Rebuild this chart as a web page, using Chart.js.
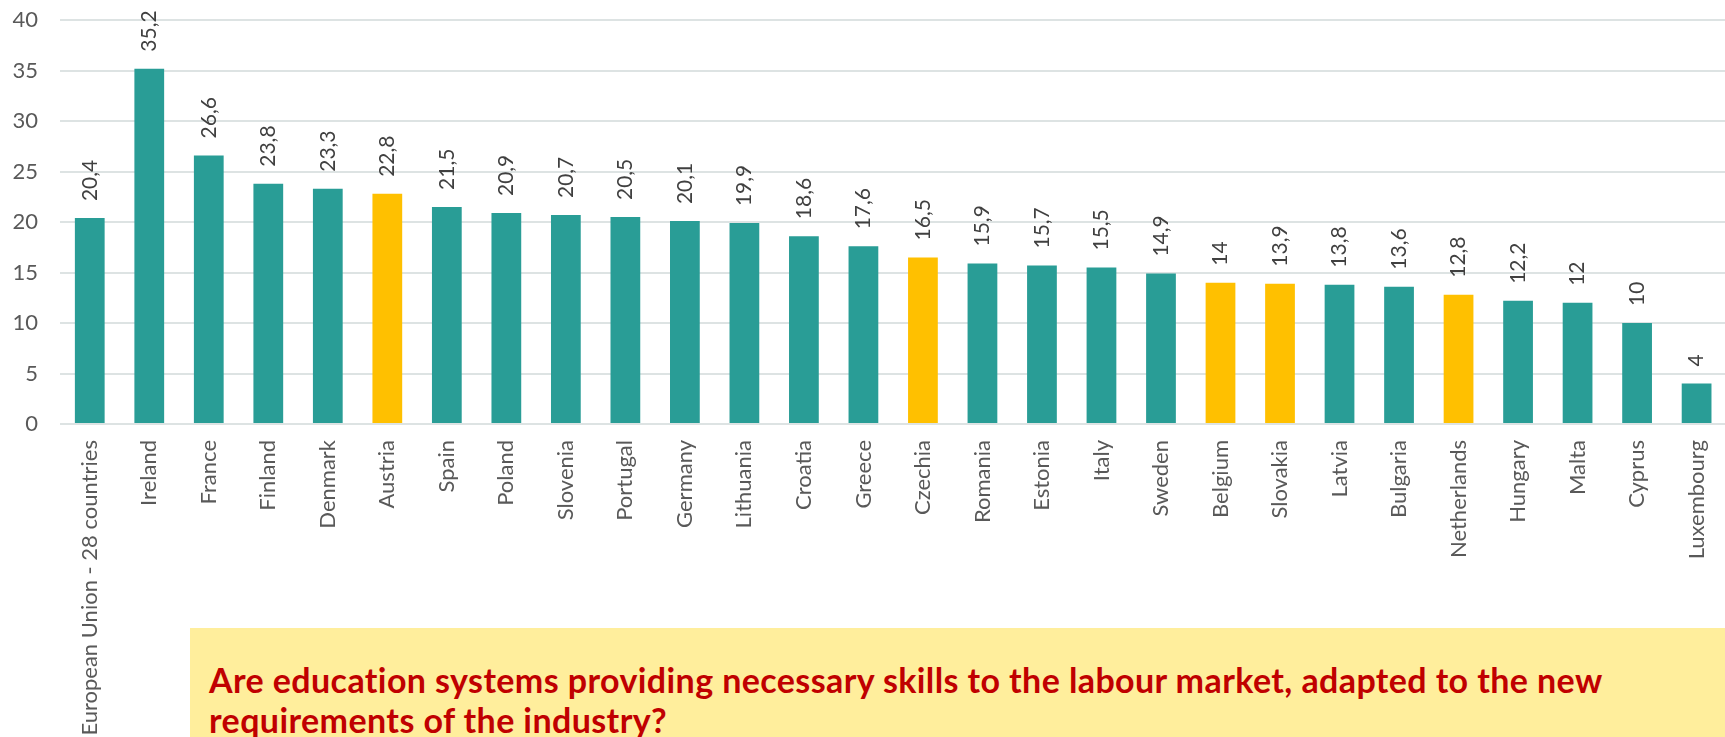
<!DOCTYPE html>
<html>
<head>
<meta charset="utf-8">
<script src="https://cdn.jsdelivr.net/npm/chart.js@4"></script>
<style>
  html, body { margin: 0; padding: 0; background: #fff; overflow: hidden; }
  #wrap { position: relative; width: 1725px; height: 737px; overflow: hidden; }
  #chartBox { position: absolute; left: 0; top: -15px; width: 1731px; height: 752px; }
  #question {
    position: absolute; left: 190px; top: 628px; width: 1535px; height: 109px;
    background: #FFEE9C; box-sizing: border-box; padding: 32px 0 0 19px;
    font-family: Lato, sans-serif; font-weight: bold; font-size: 34px; line-height: 40px;
    letter-spacing: 0.4px; color: #C00000;
  }
</style>
</head>
<body>
<div id="wrap">
  <div id="chartBox"><canvas id="skills"></canvas></div>
  <div id="question">Are education systems providing necessary skills to the labour market, adapted to the new<br>requirements of the industry?</div>
</div>
<script>
// Colors
var mainColor = "rgb(41, 157, 150)";
var highlightColor = "rgb(255, 192, 0)";
var tickColor = "#595959";
var gridColor = "#DDE3E3";

// Data
var countries = ['European Union - 28 countries', 'Ireland', 'France', 'Finland', 'Denmark', 'Austria', 'Spain', 'Poland', 'Slovenia', 'Portugal', 'Germany', 'Lithuania', 'Croatia', 'Greece', 'Czechia', 'Romania', 'Estonia', 'Italy', 'Sweden', 'Belgium', 'Slovakia', 'Latvia', 'Bulgaria', 'Netherlands', 'Hungary', 'Malta', 'Cyprus', 'Luxembourg'];
var values = [20.4, 35.2, 26.6, 23.8, 23.3, 22.8, 21.5, 20.9, 20.7, 20.5, 20.1, 19.9, 18.6, 17.6, 16.5, 15.9, 15.7, 15.5, 14.9, 14, 13.9, 13.8, 13.6, 12.8, 12.2, 12, 10, 4];
var highlighted = ['Austria', 'Czechia', 'Belgium', 'Slovakia', 'Netherlands'];
var yTicks = [0, 5, 10, 15, 20, 25, 30, 35, 40];

var barColors = countries.map(function (c) {
  return highlighted.indexOf(c) >= 0 ? highlightColor : mainColor;
});

// Rotated value labels above each bar
var valueLabels = {
  id: 'valueLabels',
  afterDatasetsDraw: function (chart) {
    var ctx = chart.ctx;
    var meta = chart.getDatasetMeta(0);
    ctx.save();
    ctx.font = '21px Lato';
    ctx.fillStyle = '#404040';
    ctx.textAlign = 'left';
    ctx.textBaseline = 'middle';
    meta.data.forEach(function (bar, i) {
      ctx.save();
      ctx.translate(bar.x, bar.y - 17);
      ctx.rotate(-Math.PI / 2);
      ctx.fillText(String(values[i]).replace('.', ','), 0, 0);
      ctx.restore();
    });
    ctx.restore();
  }
};

var skillsChart = new Chart(document.getElementById('skills'), {
  type: 'bar',
  plugins: [valueLabels],
  data: {
    labels: countries,
    datasets: [
      {
        data: values,
        backgroundColor: barColors,
        borderWidth: 0,
        barPercentage: 0.5,
        categoryPercentage: 1
      }
    ]
  },
  options: {
    responsive: true,
    maintainAspectRatio: false,
    animation: false,
    layout: { padding: { top: 5, left: 0, right: 0, bottom: 0 } },
    plugins: {
      legend: { display: false },
      tooltip: { enabled: false }
    },
    scales: {
      x: {
        grid: { display: false },
        border: { display: false },
        ticks: {
          autoSkip: false,
          minRotation: 90,
          maxRotation: 90,
          padding: 8,
          color: tickColor,
          font: { family: 'Lato', size: 22 }
        },
        afterFit: function (scale) { scale.height = 313; }
      },
      y: {
        min: 0,
        max: 40,
        afterBuildTicks: function (scale) {
          scale.ticks = yTicks.map(function (v) { return { value: v }; });
        },
        grid: { color: gridColor, lineWidth: 2, drawTicks: false },
        border: { display: false },
        ticks: {
          padding: 22,
          color: tickColor,
          font: { family: 'Lato', size: 22 }
        },
        afterFit: function (scale) { scale.width = 60; }
      }
    }
  }
});
</script>
</body>
</html>
